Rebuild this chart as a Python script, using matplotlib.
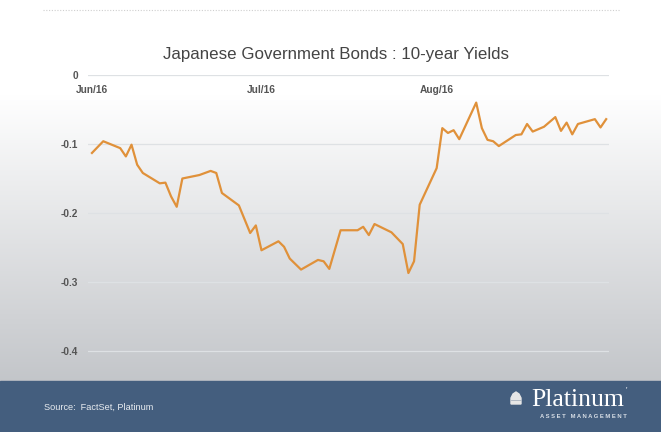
import numpy as np
import pandas as pd
import matplotlib
matplotlib.use("Agg")
import matplotlib.pyplot as plt
from matplotlib.patches import Rectangle, Polygon

# 10-year JGB yield (%)
dates = ["2016-06-01", "2016-06-03", "2016-06-06", "2016-06-07", "2016-06-08",
         "2016-06-09", "2016-06-10", "2016-06-13", "2016-06-14", "2016-06-15",
         "2016-06-16", "2016-06-17", "2016-06-20", "2016-06-22", "2016-06-23",
         "2016-06-24", "2016-06-27", "2016-06-29", "2016-06-30", "2016-07-01",
         "2016-07-04", "2016-07-05", "2016-07-06", "2016-07-08", "2016-07-11",
         "2016-07-12", "2016-07-13", "2016-07-15", "2016-07-18", "2016-07-19",
         "2016-07-20", "2016-07-21", "2016-07-24", "2016-07-26", "2016-07-27",
         "2016-07-28", "2016-07-29", "2016-08-01", "2016-08-02", "2016-08-03",
         "2016-08-04", "2016-08-05", "2016-08-08", "2016-08-09", "2016-08-10",
         "2016-08-11", "2016-08-12", "2016-08-15", "2016-08-16", "2016-08-17",
         "2016-08-18", "2016-08-20", "2016-08-22", "2016-08-23", "2016-08-24",
         "2016-08-25", "2016-08-26", "2016-08-29", "2016-08-30", "2016-08-31"]
yields = [-0.113, -0.096, -0.106, -0.118, -0.101,
          -0.130, -0.142, -0.157, -0.156, -0.176,
          -0.191, -0.150, -0.145, -0.139, -0.142,
          -0.171, -0.189, -0.229, -0.218, -0.254,
          -0.241, -0.249, -0.266, -0.282, -0.268,
          -0.270, -0.281, -0.225, -0.225, -0.220,
          -0.232, -0.216, -0.228, -0.245, -0.287,
          -0.270, -0.188, -0.135, -0.077, -0.084,
          -0.080, -0.093, -0.040, -0.077, -0.094,
          -0.096, -0.103, -0.087, -0.086, -0.071,
          -0.082, -0.075, -0.061, -0.081, -0.069,
          -0.086, -0.071, -0.064, -0.076, -0.064]

month_ticks = ["2016-06-01", "2016-07-01", "2016-08-01"]
month_labels = ["Jun/16", "Jul/16", "Aug/16"]
y_ticks = [0, -0.1, -0.2, -0.3, -0.4]
y_labels = ["0", "-0.1", "-0.2", "-0.3", "-0.4"]

title = "Japanese Government Bonds : 10-year Yields"
source = "Source:  FactSet, Platinum"

W, H = 661, 432
fig = plt.figure(figsize=(W / 100, H / 100), dpi=100)

# slide background: white fading to grey
bg = fig.add_axes([0, 0, 1, 1])
bg.set_xlim(0, W)
bg.set_ylim(H, 0)
bg.axis("off")
rows = np.linspace(0, 1, H)[:, None]
top = np.array([1.0, 1.0, 1.0])
bot = np.array([0.765, 0.775, 0.79])
t = np.clip((rows - 95 / H) / ((381 - 95) / H), 0, 1)
grad = top + (bot - top) * t[:, :, None]
grad = np.repeat(grad, 2, axis=1)
bg.imshow(grad, extent=[0, W, H, 0], aspect="auto", zorder=0)

# dotted rule at top
bg.plot([43, 620], [10, 10], color="#cfcfcf", lw=0.8, ls=(0, (1, 1.5)), zorder=1)

# footer band
bg.add_patch(Rectangle((0, 381), W, H - 381, color="#445e7e", zorder=2))
bg.text(44, 407, source, color="#e8ecf0", fontsize=6.6, family="Liberation Sans",
        va="center", ha="left", zorder=3)
bg.text(531, 400, "Platinum", color="white", fontsize=18.5, family="Liberation Serif",
        va="center", ha="left", zorder=3)
bg.text(626, 391, "'", color="white", fontsize=6, family="Liberation Serif",
        va="center", ha="left", zorder=3)
bg.text(627, 417, "A S S E T   M A N A G E M E N T", color="#d8dee6", fontsize=4.2,
        family="Liberation Sans", weight="bold", va="center", ha="right", zorder=3)
bg.add_patch(Polygon([[511, 404], [511, 398], [513, 394], [516, 392], [519, 394],
                      [521, 398], [521, 404]], closed=True, color="#e6e6e6", zorder=3))
bg.plot([511, 521], [400, 400], color="#a8b2be", lw=0.6, zorder=4)

bg.text(336, 55, title, color="#444444", fontsize=12.2, family="Liberation Sans",
        ha="center", va="center")

# main chart
x = pd.to_datetime(dates)
ax = fig.add_axes([88 / W, 1 - 378.6 / H, (609 - 88) / W, (378.6 - 75) / H])
ax.patch.set_alpha(0)
ax.plot(x, yields, color="#e0913a", lw=1.6, zorder=3, solid_joinstyle="round")

ax.set_xlim(pd.Timestamp("2016-06-01") - pd.Timedelta(days=0.7),
            pd.Timestamp("2016-08-31") + pd.Timedelta(days=0.5))
ax.set_ylim(-0.44, 0)
ax.set_yticks(y_ticks)
ax.set_yticklabels(y_labels)
ax.grid(axis="y", color="#dee1e4", lw=0.9)
ax.grid(axis="x", visible=False)
for s in ax.spines.values():
    s.set_visible(False)

ax.xaxis.tick_top()
ax.set_xticks(pd.to_datetime(month_ticks))
ax.set_xticklabels(month_labels)
ax.tick_params(axis="x", length=0, pad=-14.3, labelsize=7.3, labelcolor="#555555")
ax.tick_params(axis="y", length=0, pad=7, labelsize=7.3, labelcolor="#555555")
for lbl in ax.get_xticklabels() + ax.get_yticklabels():
    lbl.set_fontweight("bold")
    lbl.set_family("Liberation Sans")

fig.savefig("out.png", dpi=100)
